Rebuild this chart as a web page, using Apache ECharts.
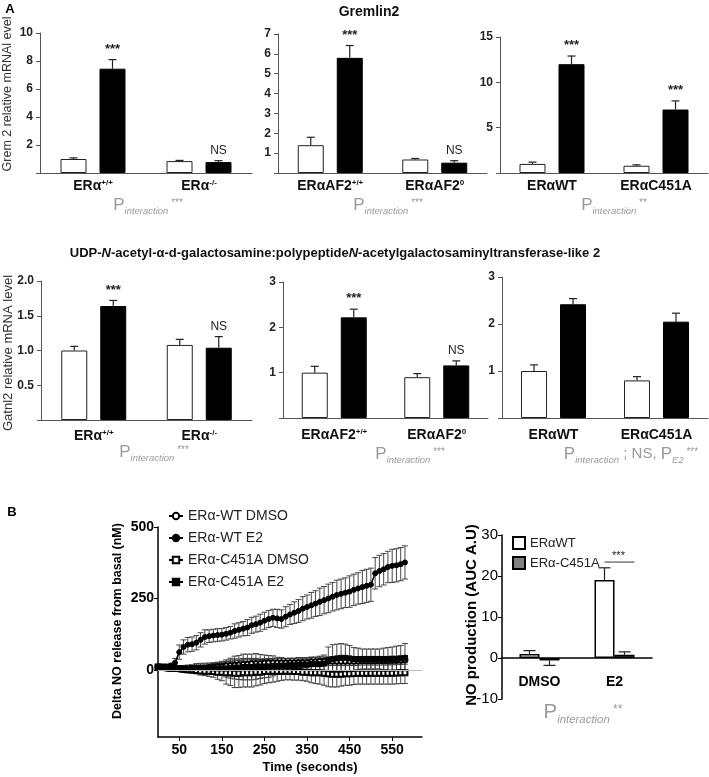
<!DOCTYPE html>
<html><head><meta charset="utf-8">
<script src="https://cdn.jsdelivr.net/npm/echarts@6/dist/echarts.min.js"></script>
<style>html,body{margin:0;padding:0;background:#fff}#c{width:709px;height:777px}</style>
</head><body><div id="c"></div>
<script>
// ================= DATA =================
// Panel A, row 1: Gremlin2 (white = vehicle, black = E2)
const gremCats1 = ['ERα^+/+', 'ERα^-/-'];
const gremVeh1 = [1.0, 0.85];
const gremVehErr1 = [0.08, 0.05];
const gremE21 = [7.45, 0.78];
const gremE2Err1 = [0.65, 0.10];
const gremSig1 = ['***', 'NS'];

const gremCats2 = ['ERαAF2^+/+', 'ERαAF2^0'];
const gremVeh2 = [1.4, 0.68];
const gremVehErr2 = [0.40, 0.05];
const gremE22 = [5.8, 0.52];
const gremE2Err2 = [0.62, 0.10];
const gremSig2 = ['***', 'NS'];

const gremCats3 = ['ERαWT', 'ERαC451A'];
const gremVeh3 = [1.0, 0.8];
const gremVehErr3 = [0.2, 0.1];
const gremE23 = [12.0, 7.0];
const gremE2Err3 = [0.9, 0.95];
const gremSig3 = ['***', '***'];

// Panel A, row 2: Galntl2
const galCats1 = ['ERα^+/+', 'ERα^-/-'];
const galVeh1 = [1.0, 1.08];
const galVehErr1 = [0.06, 0.08];
const galE21 = [1.64, 1.04];
const galE2Err1 = [0.08, 0.16];
const galSig1 = ['***', 'NS'];

const galCats2 = ['ERαAF2^+/+', 'ERαAF2^0'];
const galVeh2 = [1.0, 0.9];
const galVehErr2 = [0.14, 0.08];
const galE22 = [2.22, 1.16];
const galE2Err2 = [0.18, 0.10];
const galSig2 = ['***', 'NS'];

const galCats3 = ['ERαWT', 'ERαC451A'];
const galVeh3 = [1.0, 0.8];
const galVehErr3 = [0.13, 0.08];
const galE23 = [2.42, 2.05];
const galE2Err3 = [0.12, 0.18];
const galSig3 = ['', ''];

// Panel B, time course
const timeSec = [0,10,20,30,40,50,60,70,80,90,100,110,120,130,140,150,160,170,180,190,200,210,220,230,240,250,260,270,280,290,300,310,320,330,340,350,360,370,380,390,400,410,420,430,440,450,460,470,480,490,500,510,520,530,540,550,560,570,580];
const seriesNames = ['ERα-WT DMSO', 'ERα-WT E2', 'ERα-C451A DMSO', 'ERα-C451A E2'];
const wtDmso = [10,8,6,5,5, 3,2,0,0,2,4,5, 8,10,12,12,14,15,17,18,20, 20,22,22,22,24,25,25,25,25, 25,25,25,26,26,26,28,28,30,30, 30,30,30,30,30,30,30,31,32,32, 32,32,32,32,32,33,33,34,35];
const wtDmsoErr = [3,3,4,5,6, 8,8,8,10,10,10,10, 12,12,12,14,14,14,15,15,15, 15,15,15,15,15,15,15,15,15, 15,15,15,15,15,15,15,15,15,15, 15,15,15,15,15,15,15,15,15,15, 15,15,15,15,15,15,15,15,15];
const wtE2 = [10,10,12,15,25, 62,80,88,90,95,105,115, 118,120,122,123,126,130,136,140,144, 148,156,160,165,172,178,182,180,178, 186,194,200,206,214,220,226,232,238,244, 250,256,262,266,270,274,280,285,290,294, 298,338,346,352,360,364,366,370,376];
const wtE2Err = [5,5,5,8,15, 25,25,25,25,25,25,25, 22,22,22,22,22,22,25,25,25, 28,28,28,30,30,30,30,32,32, 35,35,38,40,42,42,45,45,48,48, 50,50,52,52,52,55,55,55,58,58, 58,55,55,55,55,58,58,58,58];
const mutDmso = [10,10,8,5,5, 5,2,0,0,-2,-4,-5, -5,-6,-8,-8,-10,-10,-12,-12,-10, -10,-10,-8,-8,-6,-5,-5,-5,-5, -5,-5,-6,-6,-8,-8,-10,-10,-10,-12, -14,-15,-15,-15,-14,-14,-13,-12,-12,-12, -12,-12,-12,-12,-12,-12,-11,-10,-10];
const mutDmsoErr = [4,4,5,6,6, 10,10,10,12,12,14,15, 18,20,25,30,40,45,50,50,50, 50,50,48,45,42,40,38,35,32, 30,30,30,30,30,32,35,38,40,42, 45,45,45,42,40,40,38,38,38,38, 38,38,38,38,38,38,38,38,38];
const mutE2 = [10,10,10,8,5, 5,5,5,6,8,8,8, 6,5,5,5,5,6,8,8,10, 10,10,12,12,12,12,14,14,15, 15,16,16,18,18,18,20,20,20,22, 35,38,40,42,42,40,38,38,38,38, 38,38,38,38,38,38,38,40,42];
const mutE2Err = [4,4,5,6,6, 10,10,12,12,14,15,15, 18,20,22,25,30,35,40,42,45, 45,45,45,42,40,38,35,30,28, 25,25,25,25,25,25,25,25,28,30, 45,50,50,50,48,45,40,38,35,35, 35,35,35,38,40,42,45,45,50];
const timeTicks = [50,150,250,350,450,550];
const noTicks = [0,250,500];

// Panel B, AUC
const aucCats = ['DMSO', 'E2'];
const aucNames = ['ERαWT', 'ERα-C451A'];
const aucWT = [1.0, 19.0];
const aucWTErr = [0.8, 3.0];
const aucMut = [-0.6, 0.8];
const aucMutErr = [1.2, 0.7];
const aucSig = {cat: 1, value: 23.4, text: '***'};

// ================= LAYOUT / STYLE =================
const FF = '"Liberation Sans", Arial, Helvetica, sans-serif';
const GRAY = '#9a9a9a';
const panelsA = [
  {cats: gremCats1, veh: gremVeh1, vehErr: gremVehErr1, e2: gremE21, e2Err: gremE2Err1, sig: gremSig1},
  {cats: gremCats2, veh: gremVeh2, vehErr: gremVehErr2, e2: gremE22, e2Err: gremE2Err2, sig: gremSig2},
  {cats: gremCats3, veh: gremVeh3, vehErr: gremVehErr3, e2: gremE23, e2Err: gremE2Err3, sig: gremSig3},
  {cats: galCats1, veh: galVeh1, vehErr: galVehErr1, e2: galE21, e2Err: galE2Err1, sig: galSig1},
  {cats: galCats2, veh: galVeh2, vehErr: galVehErr2, e2: galE22, e2Err: galE2Err2, sig: galSig2},
  {cats: galCats3, veh: galVeh3, vehErr: galVehErr3, e2: galE23, e2Err: galE2Err3, sig: galSig3}
];
const layoutA = [
  {left: 40, top: 33, width: 212, height: 140, max: 10, interval: 2, dec: 0, margin: 6},
  {left: 278, top: 34, width: 209, height: 139, max: 7, interval: 1, dec: 0, margin: 6},
  {left: 500, top: 37, width: 208, height: 136, max: 15, interval: 5, dec: 0, margin: 6},
  {left: 41, top: 281, width: 211, height: 139, max: 2, interval: 0.5, dec: 1, margin: 9},
  {left: 283, top: 282, width: 205, height: 136, max: 3, interval: 1, dec: 0, margin: 10},
  {left: 502, top: 277, width: 206, height: 141, max: 3, interval: 1, dec: 0, margin: 10}
];
const BW = 26, GAPPX = 13, OFF = (BW + GAPPX) / 2;

function catFmt(v) {
  const p = v.split('^');
  return p.length > 1 ? p[0] + '{s|' + p[1] + '}' : p[0];
}
function ln(x1, y1, x2, y2, w, c) {
  return {type: 'line', shape: {x1, y1, x2, y2}, style: {stroke: c || '#222', lineWidth: w || 1}};
}
function barErrSeries(gi, vals, errs, off, labels, cap) {
  return {
    type: 'custom', xAxisIndex: gi, yAxisIndex: gi, z: 5, silent: true,
    data: vals.map((v, k) => [k, v, errs[k]]),
    encode: {x: 0, y: 1},
    renderItem(params, api) {
      const k = api.value(0), v = api.value(1), e = api.value(2);
      const dir = v < 0 ? -1 : 1;
      const b = api.coord([k, v]), t = api.coord([k, v + dir * e]);
      const x = b[0] + off;
      const ch = [ln(x, b[1], x, t[1], 1.2), ln(x - cap, t[1], x + cap, t[1], 1.2)];
      const lab = labels ? labels[params.dataIndex] : '';
      if (lab) {
        ch.push({type: 'text', x: x, y: t[1] - 4, style: {
          text: lab, align: 'center', verticalAlign: 'bottom', fill: '#222',
          fontFamily: FF, fontSize: lab === 'NS' ? 12 : 13, fontWeight: lab === 'NS' ? 'normal' : 'bold'}});
      }
      return {type: 'group', children: ch};
    }
  };
}

const grids = [], xAxes = [], yAxes = [], series = [];
panelsA.forEach((p, i) => {
  const L = layoutA[i];
  grids.push({left: L.left, top: L.top, width: L.width, height: L.height});
  xAxes.push({
    type: 'category', gridIndex: i, data: p.cats,
    axisLine: {lineStyle: {color: '#555', width: 1}},
    axisTick: {alignWithLabel: true, length: 4, lineStyle: {color: '#555'}},
    axisLabel: {interval: 0, hideOverlap: false, margin: L.margin, formatter: catFmt, fontFamily: FF, fontSize: 14, fontWeight: 'bold', color: '#111',
      rich: {s: {fontSize: 8, fontWeight: 'bold', fontFamily: FF, color: '#111', verticalAlign: 'top', padding: [0, 0, 5, 0]}}}
  });
  yAxes.push({
    type: 'value', gridIndex: i, min: 0, max: L.max, interval: L.interval,
    axisLine: {show: true, lineStyle: {color: '#555', width: 1}},
    axisTick: {show: true, length: 4, lineStyle: {color: '#555'}},
    splitLine: {show: false},
    axisLabel: {fontFamily: FF, fontSize: 12, fontWeight: 'bold', color: '#222', margin: 7,
      formatter: v => v === 0 ? '' : v.toFixed(L.dec)}
  });
  series.push({type: 'bar', name: 'veh' + i, xAxisIndex: i, yAxisIndex: i, data: p.veh, barWidth: BW, barGap: (GAPPX / BW * 100) + '%',
    itemStyle: {color: '#fff', borderColor: '#222', borderWidth: 1}, silent: true});
  series.push({type: 'bar', name: 'e2' + i, xAxisIndex: i, yAxisIndex: i, data: p.e2, barWidth: BW, barGap: (GAPPX / BW * 100) + '%',
    itemStyle: {color: '#000', borderColor: '#000', borderWidth: 1}, silent: true});
  series.push(barErrSeries(i, p.veh, p.vehErr, -OFF, null, 4));
  series.push(barErrSeries(i, p.e2, p.e2Err, OFF, p.sig, 4));
});

// ---- Panel B left: time course ----
const gT = grids.length;
grids.push({left: 158, top: 527, width: 264, height: 210});
xAxes.push({
  type: 'value', gridIndex: gT, min: 0, max: 620,
  axisLine: {onZero: false, lineStyle: {color: '#000', width: 1.5}},
  axisTick: {show: true, customValues: timeTicks, length: 4, lineStyle: {color: '#000'}},
  axisLabel: {customValues: timeTicks, fontFamily: FF, fontSize: 14, fontWeight: 'bold', color: '#000', margin: 6},
  splitLine: {show: false}
});
yAxes.push({
  type: 'value', gridIndex: gT, min: -235, max: 500,
  axisLine: {show: true, onZero: false, lineStyle: {color: '#000', width: 1.5}},
  axisTick: {show: true, customValues: noTicks, length: 4, lineStyle: {color: '#000'}},
  axisLabel: {customValues: noTicks, fontFamily: FF, fontSize: 14, fontWeight: 'bold', color: '#000', margin: 4},
  splitLine: {show: false}
});
const tcVals = [wtDmso, wtE2, mutDmso, mutE2];
const tcErrs = [wtDmsoErr, wtE2Err, mutDmsoErr, mutE2Err];
const tcSymbols = ['emptyCircle', 'circle', 'emptyRect', 'rect'];
tcVals.forEach((vals, s) => {
  series.push({
    type: 'custom', xAxisIndex: gT, yAxisIndex: gT, z: 3, silent: true,
    data: vals.map((v, k) => [timeSec[k], v, tcErrs[s][k]]),
    encode: {x: 0, y: 1},
    renderItem(params, api) {
      const t = api.value(0), v = api.value(1), e = api.value(2);
      const lo = api.coord([t, v - e]), hi = api.coord([t, v + e]);
      const x = lo[0];
      return {type: 'group', children: [
        ln(x, lo[1], x, hi[1], 0.9, '#333'), ln(x - 3, lo[1], x + 3, lo[1], 0.9, '#333'), ln(x - 3, hi[1], x + 3, hi[1], 0.9, '#333')]};
    }
  });
});
tcVals.forEach((vals, s) => {
  const ser = {
    type: 'line', name: seriesNames[s], xAxisIndex: gT, yAxisIndex: gT, z: 4,
    data: vals.map((v, k) => [timeSec[k], v]),
    symbol: tcSymbols[s], symbolSize: 5, showSymbol: true,
    lineStyle: {color: '#000', width: 1.5}, itemStyle: {color: '#000', borderColor: '#000', borderWidth: 1},
    emphasis: {disabled: true}, silent: true
  };
  if (s === 0) {
    ser.markLine = {silent: true, symbol: 'none', label: {show: false},
      lineStyle: {color: '#bbb', width: 1, type: 'solid'}, data: [{yAxis: 0}], animation: false};
  }
  series.push(ser);
});

// ---- Panel B right: AUC ----
const gA = grids.length;
grids.push({left: 502, top: 535, width: 150, height: 164});
xAxes.push({
  type: 'category', gridIndex: gA, data: aucCats,
  axisLine: {onZero: true, lineStyle: {color: '#000', width: 1.5}},
  axisTick: {show: false},
  axisLabel: {interval: 0, fontFamily: FF, fontSize: 14, fontWeight: 'bold', color: '#000', margin: -24}
});
yAxes.push({
  type: 'value', gridIndex: gA, min: -10, max: 30, interval: 10,
  axisLine: {show: true, lineStyle: {color: '#000', width: 1.5}},
  axisTick: {show: true, length: 4, lineStyle: {color: '#000'}},
  axisLabel: {fontFamily: FF, fontSize: 15, color: '#000', margin: 4},
  splitLine: {show: false}
});
series.push({type: 'bar', name: aucNames[0], xAxisIndex: gA, yAxisIndex: gA, data: aucWT, barWidth: 20, barGap: '0%',
  itemStyle: {color: '#fff', borderColor: '#000', borderWidth: 1.5}, silent: true});
series.push({type: 'bar', name: aucNames[1], xAxisIndex: gA, yAxisIndex: gA, data: aucMut, barWidth: 20, barGap: '0%',
  itemStyle: {color: '#808080', borderColor: '#000', borderWidth: 1.5}, silent: true});
series.push(barErrSeries(gA, aucWT, aucWTErr, -10, null, 6));
series.push(barErrSeries(gA, aucMut, aucMutErr, 10, null, 6));
series.push({
  type: 'custom', xAxisIndex: gA, yAxisIndex: gA, z: 6, silent: true,
  data: [[aucSig.cat, aucSig.value]], encode: {x: 0, y: 1},
  renderItem(params, api) {
    const c = api.coord([api.value(0), api.value(1)]);
    return {type: 'group', children: [
      ln(c[0] - 10, c[1], c[0] + 20, c[1], 1, '#333'),
      {type: 'text', x: c[0] + 4, y: c[1] - 1, style: {text: aucSig.text, align: 'center', verticalAlign: 'bottom',
        fill: '#222', fontFamily: FF, fontSize: 11}}]};
  }
});

// ---- Text graphics ----
function pLabel(x, y, text, big) {
  const f = big ? 1.2 : 1;
  return {type: 'text', x, y, silent: true, style: {
    text, align: 'center', verticalAlign: 'middle', fill: GRAY, fontFamily: FF, fontSize: 16 * f,
    rich: {
      p: {fontSize: 17 * f, fill: GRAY, fontFamily: FF},
      n: {fontSize: 15 * f, fill: GRAY, fontFamily: FF},
      i: {fontSize: 9.5 * f, fontStyle: 'italic', fill: GRAY, fontFamily: FF, verticalAlign: 'bottom', padding: [0, 0, -3, 0]},
      t: {fontSize: 10 * f, fill: GRAY, fontFamily: FF, verticalAlign: 'top', padding: [2, 0, 0, 0]}
    }}};
}
function rotLabel(x, y, text, size, weight, color) {
  return {type: 'text', x, y, rotation: Math.PI / 2, silent: true,
    style: {text, align: 'center', verticalAlign: 'middle', fill: color, fontFamily: FF, fontSize: size, fontWeight: weight}};
}
const graphics = [
  {type: 'text', x: 10, y: 9, silent: true, style: {text: 'A', fontFamily: FF, fontSize: 13, fontWeight: 'bold', fill: '#000', align: 'center', verticalAlign: 'middle'}},
  {type: 'text', x: 12, y: 512, silent: true, style: {text: 'B', fontFamily: FF, fontSize: 13, fontWeight: 'bold', fill: '#000', align: 'center', verticalAlign: 'middle'}},
  {type: 'text', x: 369, y: 12, silent: true, style: {text: 'Gremlin2', fontFamily: FF, fontSize: 14, fontWeight: 'bold', fill: '#111', align: 'center', verticalAlign: 'middle'}},
  {type: 'text', x: 335, y: 253, silent: true, style: {
    text: 'UDP-{i|N}-acetyl-α-d-galactosamine:polypeptide{i|N}-acetylgalactosaminyltransferase-like 2',
    fontFamily: FF, fontSize: 13, fontWeight: 'bold', fill: '#111', align: 'center', verticalAlign: 'middle',
    rich: {i: {fontFamily: FF, fontSize: 13, fontWeight: 'bold', fontStyle: 'italic', fill: '#111'}}}},
  rotLabel(8, 94, 'Grem 2 relative mRNAl evel', 12.5, 'normal', '#333'),
  rotLabel(8, 353, 'Gatnl2 relative mRNA level', 13, 'normal', '#333'),
  rotLabel(118, 621, 'Delta NO release from basal (nM)', 12.5, 'bold', '#000'),
  rotLabel(472, 615, 'NO production (AUC A.U)', 15, 'bold', '#000'),
  {type: 'text', x: 310, y: 767, silent: true, style: {text: 'Time (seconds)', fontFamily: FF, fontSize: 13, fontWeight: 'bold', fill: '#000', align: 'center', verticalAlign: 'middle'}},
  pLabel(148, 205, '{p|P}{i|interaction}{t| ***}'),
  pLabel(388, 205, '{p|P}{i|interaction}{t| ***}'),
  pLabel(614, 205, '{p|P}{i|interaction}{t| **}'),
  pLabel(154, 452, '{p|P}{i|interaction}{t| ***}'),
  pLabel(410, 454, '{p|P}{i|interaction}{t| ***}'),
  pLabel(631, 454, '{p|P}{i|interaction}{n| ; NS, }{p|P}{i|E2}{t| ***}'),
  pLabel(583, 712, '{p|P}{i|interaction}{t| **}', true)
];

const option = {
  animation: false,
  backgroundColor: '#fff',
  textStyle: {fontFamily: FF},
  grid: grids, xAxis: xAxes, yAxis: yAxes, series,
  legend: [
    {data: seriesNames, orient: 'vertical', left: 163, top: 504, itemGap: 8, itemWidth: 14, itemHeight: 8,
      selectedMode: false, textStyle: {fontFamily: FF, fontSize: 14, color: '#222'}},
    {data: aucNames.map(n => ({name: n, icon: 'rect'})), orient: 'vertical', left: 507, top: 531, itemGap: 6, itemWidth: 12, itemHeight: 12,
      selectedMode: false, textStyle: {fontFamily: FF, fontSize: 13, color: '#222'}}
  ],
  graphic: graphics
};
const chart = echarts.init(document.getElementById('c'), null, {renderer: 'canvas'});
chart.setOption(option);
</script>
</body></html>
